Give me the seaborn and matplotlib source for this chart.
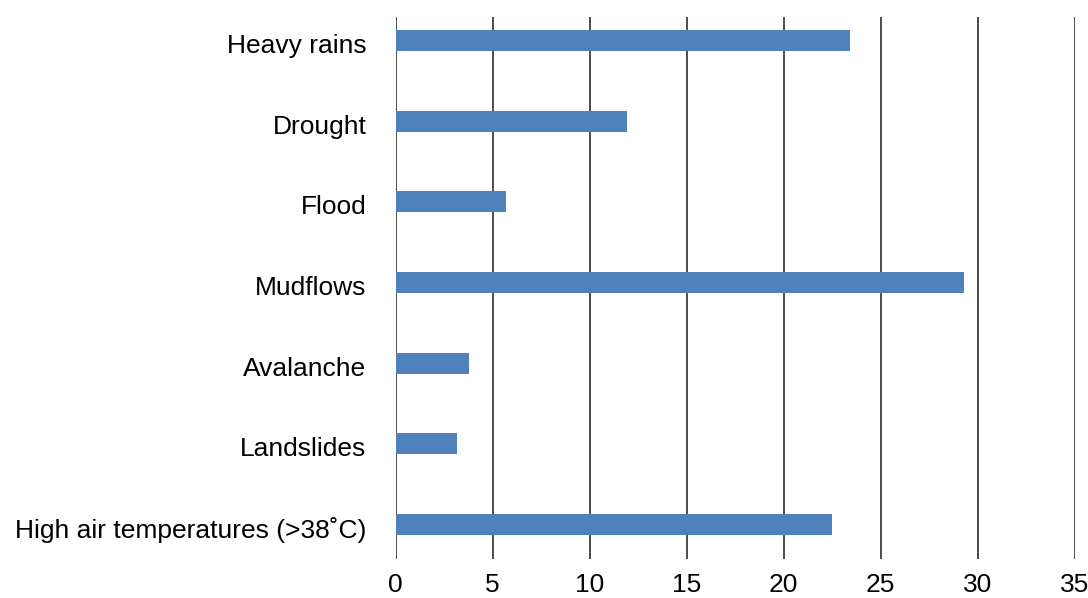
import matplotlib
matplotlib.use("Agg")
import matplotlib.pyplot as plt
import matplotlib.transforms as mtransforms
import seaborn as sns
import pandas as pd

categories = ["Heavy rains", "Drought", "Flood", "Mudflows", "Avalanche",
              "Landslides", "High air temperatures (>38\u02daC)"]
values = [23.4, 11.9, 5.7, 29.3, 3.8, 3.15, 22.5]
x_ticks = [0, 5, 10, 15, 20, 25, 30, 35]

sns.set_theme(style="white")
plt.rcParams['font.family'] = ['Liberation Sans', 'DejaVu Sans']

df = pd.DataFrame({"category": categories, "value": values})

fig = plt.figure(figsize=(10.88, 5.98), dpi=100)
ax = fig.add_axes([0.3637, 0.0652, 0.9878 - 0.3637, 0.972 - 0.0652])

sns.barplot(data=df, x="value", y="category", orient="h", color="#4F81BD",
            saturation=1, width=0.26, ax=ax, zorder=3, linewidth=0)

ax.set_xlim(0, 35)
ax.set_ylim(6.43, -0.295)
ax.set_xticks(x_ticks)
ax.set_xticklabels([str(t) for t in x_ticks])
for t in x_ticks:
    ax.axvline(t, color="#3f3f3f", linewidth=1.3, zorder=1)
for s in ax.spines.values():
    s.set_visible(False)
ax.set_xlabel("")
ax.set_ylabel("")
ax.tick_params(axis="x", length=0, pad=10, labelsize=19, colors="black")
ax.tick_params(axis="y", length=0, pad=21, labelsize=19, colors="black")
ax.grid(False)

offset = mtransforms.ScaledTranslation(0, -3 / 100, fig.dpi_scale_trans)
for lbl in ax.get_yticklabels():
    lbl.set_transform(lbl.get_transform() + offset)

fig.savefig("out.png", dpi=100)
